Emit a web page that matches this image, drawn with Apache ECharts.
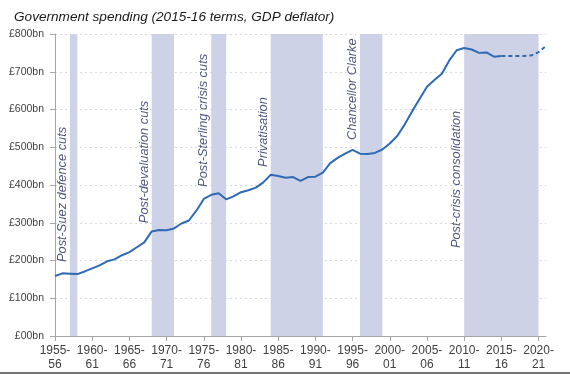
<!DOCTYPE html>
<html>
<head>
<meta charset="utf-8">
<script src="https://cdn.jsdelivr.net/npm/echarts@6/dist/echarts.min.js"></script>
<style>
html,body{margin:0;padding:0;background:#fff;}
#chart{width:570px;height:374px;}
</style>
</head>
<body>
<div id="chart"></div>
<script>
// Fiscal years (start year); label "1955-56" etc.
var years = [];
for (var y = 1955; y <= 2021; y++) years.push(y);
var categories = years.map(function (y) { return y + '-' + String((y + 1) % 100).padStart(2, '0'); });

// Outturn 1955-56 .. 2015-16 (£bn, 2015-16 prices)
var outturn = [159,166,165,164,171,179,187,198,203,214,
               222,235,248,277,281,280,285,298,306,332,
               363,374,378,362,370,381,386,393,407,427,
               424,419,421,411,421,422,433,458,472,483,
               493,483,482,485,494,510,530,560,595,628,
               660,678,695,730,757,763,759,750,751,740,
               742];
// Forecast 2015-16 .. 2021-22
var forecastYears = [2015,2016,2017,2018,2019,2020,2021];
var forecast = [742,742,742,742,743,752,768];

// Shaded periods [start, end]
var bandStart = [1957,1968,1976,1984,1996,2010];
var bandEnd   = [1958,1971,1978,1991,1999,2020];

// Annotations
var annotTexts  = ['Post-Suez defence cuts','Post-devaluation cuts','Post-Sterling crisis cuts','Privatisation','Chancellor Clarke','Post-crisis consolidation'];
var annotYears  = [1956,1967,1975,1983,1995,2009];
var annotValues = [196,299,395,448,519,233];

var yTicks = [0,100,200,300,400,500,600,700,800];

function cat(y) { return categories[years.indexOf(y)]; }

var outData = categories.map(function (c, i) { return i < outturn.length ? outturn[i] : null; });
var fcData = categories.map(function (c, i) {
  var k = forecastYears.indexOf(years[i]);
  return k >= 0 ? forecast[k] : null;
});

var chart = echarts.init(document.getElementById('chart'), null, {renderer: 'canvas'});
var lineColor = '#2E6BB4';
chart.setOption({
  animation: false,
  backgroundColor: '#fff',
  title: {
    text: 'Government spending (2015-16 terms, GDP deflator)',
    left: 9, top: 5,
    textStyle: {fontFamily: 'Liberation Sans', fontStyle: 'italic', fontWeight: 'normal', fontSize: 13.6, color: '#1a1a1a'}
  },
  grid: {left: 55, right: 24, top: 34, bottom: 38, containLabel: false},
  xAxis: {
    type: 'category',
    data: categories,
    boundaryGap: false,
    axisLine: {lineStyle: {color: '#A6A6A6', width: 1}},
    axisTick: {show: true, interval: 4, length: 5, inside: false, lineStyle: {color: '#A6A6A6'}},
    axisLabel: {
      interval: 4, margin: 8,
      fontFamily: 'Liberation Sans', fontSize: 12, color: '#404040', lineHeight: 14,
      formatter: function (v) { var p = v.split('-'); return p[0] + '-\n' + p[1]; }
    },
    splitLine: {show: false}
  },
  yAxis: {
    type: 'value',
    min: yTicks[0], max: yTicks[yTicks.length - 1], interval: 100,
    axisLine: {show: true, lineStyle: {color: '#A6A6A6', width: 1}},
    axisTick: {show: true, length: 5, lineStyle: {color: '#A6A6A6'}},
    axisLabel: {
      margin: 11, fontFamily: 'Liberation Sans', fontSize: 10.5, color: '#404040',
      formatter: function (v) { return v === 0 ? '£00bn' : '£' + v + 'bn'; }
    },
    splitLine: {show: true, lineStyle: {color: '#D9D9D9', type: [2, 3], width: 1}}
  },
  series: [
    {
      name: 'Outturn', type: 'line', data: outData, showSymbol: false, symbol: 'none',
      lineStyle: {color: lineColor, width: 2}, z: 5,
      markArea: {
        silent: true,
        itemStyle: {color: '#CED2E6'},
        data: bandStart.map(function (s, i) { return [{xAxis: cat(s)}, {xAxis: cat(bandEnd[i])}]; })
      }
    },
    {
      name: 'Forecast', type: 'line', data: fcData, showSymbol: false, symbol: 'none',
      lineStyle: {color: lineColor, width: 2, type: [4, 3]}, z: 5
    },
    {
      name: 'Notes', type: 'scatter', symbolSize: 0, z: 6, silent: true,
      data: annotTexts.map(function (t, i) { return {name: t, value: [cat(annotYears[i]), annotValues[i]]}; }),
      label: {
        show: true, position: [0, 0], rotate: 90, align: 'left', verticalAlign: 'middle',
        formatter: function (p) { return p.name; },
        fontFamily: 'Liberation Sans', fontStyle: 'italic', fontSize: 12.8, color: '#1F2B5C'
      }
    }
  ],
  graphic: [{
    type: 'line', shape: {x1: 0, y1: 373, x2: 570, y2: 373},
    style: {stroke: '#4a4a4a', lineWidth: 1.5}, silent: true
  }]
});
</script>
</body>
</html>
